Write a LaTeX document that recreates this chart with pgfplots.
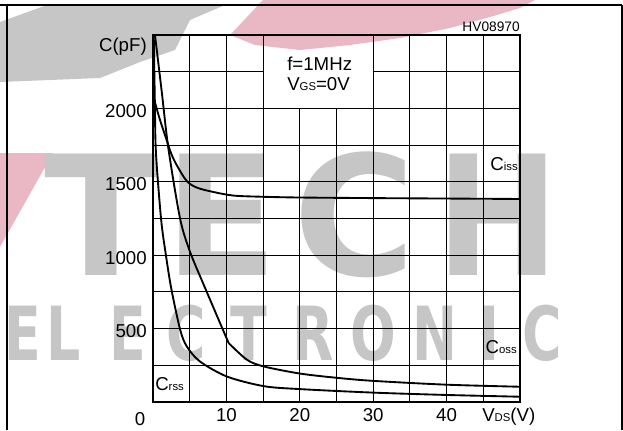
\documentclass[border=0pt]{standalone}
\usepackage{fontspec}
\setmainfont{Liberation Sans}
\newfontfamily\wmfont{DejaVu Sans}
\usepackage{graphicx}
\usepackage{pgfplots}
\pgfplotsset{compat=1.18}

\definecolor{wmgray}{RGB}{198,198,198}
\definecolor{wmpink}{RGB}{234,184,196}
\newcommand\sub[1]{{\fontsize{8.5}{9}\selectfont #1}}
\newcommand\lbl{\fontsize{14}{16}\selectfont}

\begin{document}
\begin{tikzpicture}[x=0.75pt,y=0.75pt]
% pixel coordinates of the reference, shifted so that the axis corner is the origin
\begin{scope}[shift={(-153,-28)}]
\useasboundingbox (0,0) rectangle (623,430);
% watermark, behind the chart
\fill[wmpink] (263,430) -- (535,430) -- (520,422) -- (490,413) -- (450,402) -- (400,392)
  -- (350,385) -- (300,380) -- (255,385) -- (230,395) -- cycle;
\fill[wmpink] (0,277) -- (53,277) -- (0,183) -- cycle;
\fill[wmgray] (47,425) -- (225,425) -- (190,410) -- (175,380) -- (140,368) -- (100,352)
  -- (0,348) -- (0,408) -- cycle;
\begin{scope}[every node/.style={anchor=base west,inner sep=0pt,text=wmgray,
    font=\wmfont\fontsize{125}{125}\bfseries\selectfont}]
  \node at (44,155) {T};
  \node at (164,155) {E};
  \node at (293,155) {C};
  \node at (436,155) {\scalebox{0.88}[1]{H}};
\end{scope}
\begin{scope}[every node/.style={anchor=base west,inner sep=0pt,text=wmgray,
    font=\wmfont\fontsize{56}{56}\bfseries\selectfont}]
  \node at (4,70) {\scalebox{0.72}[1]{E}};
  \node at (46,70) {\scalebox{0.72}[1]{L}};
  \node at (109,70) {\scalebox{0.72}[1]{E}};
  \node at (166,70) {\scalebox{0.72}[1]{C}};
  \node at (230,70) {\scalebox{0.72}[1]{T}};
  \node at (292,70) {\scalebox{0.72}[1]{R}};
  \node at (350,70) {\scalebox{0.72}[1]{O}};
  \node at (412,70) {\scalebox{0.72}[1]{N}};
  \node at (479,70) {\scalebox{0.72}[1]{I}};
  \node at (522,70) {\scalebox{0.72}[1]{C}};
\end{scope}
% outer frame (open at the bottom)
\draw[line width=1.5pt] (0,425) -- (622,425);
\draw[line width=1.5pt] (7,425) -- (7,0);
\draw[line width=1.5pt] (622,425) -- (622,0);
\end{scope}

\begin{axis}[
  at={(0,0)}, anchor=south west,
  scale only axis, width=275.25pt, height=275.25pt,
  xmin=0, xmax=50, ymin=0, ymax=2500,
  xtick={10,20,30,40},
  ytick={500,1000,1500,2000},
  major tick length=0pt,
  axis line style={line width=1.5pt},
  /pgf/number format/assume math mode=true,
  /pgf/number format/1000 sep={},
  tick label style={font=\lbl, inner sep=0pt},
  yticklabel style={anchor=east, xshift=-4.5pt, yshift=-2pt},
  xticklabel style={anchor=north, yshift=-4.5pt},
]
% grid, left open where the test conditions are written
\pgfplotsinvokeforeach{5,10,15,30,35,40,45}{
  \draw[line width=0.7pt] (axis cs:#1,0) -- (axis cs:#1,2500);
}
\pgfplotsinvokeforeach{20,25}{
  \draw[line width=0.7pt] (axis cs:#1,0) -- (axis cs:#1,2000);
}
\pgfplotsinvokeforeach{250,500,750,1000,1250,1500,1750,2000}{
  \draw[line width=0.7pt] (axis cs:0,#1) -- (axis cs:50,#1);
}
\draw[line width=0.7pt] (axis cs:0,2250) -- (axis cs:15,2250);
\draw[line width=0.7pt] (axis cs:30,2250) -- (axis cs:50,2250);

% Ciss
\addplot[black, line width=1.4pt, smooth, no marks] coordinates {
(0,2089) (0.9,1930) (1.87,1783) (2.5,1690) (3.24,1613) (4.6,1505) (6,1460)
(8.2,1431) (11,1406) (15,1398) (20,1393) (30,1389) (40,1386) (50,1383)
};
% Coss
\addplot[black, line width=1.4pt, smooth, no marks] coordinates {
(0.27,2500) (1.2,2110) (2.1,1726) (3.7,1247) (5.07,1020) (6.9,800) (9.4,507) (10.3,402)
};
\addplot[black, line width=1.4pt, smooth, no marks] coordinates {
(10.3,402) (12.8,288) (15.1,242) (20,194) (25,165) (30,144) (40,118) (50,104)
};
% Crss
\addplot[black, line width=1.4pt, smooth, no marks] coordinates {
(0.1,2500) (0.25,2050) (0.4,1700) (1.1,1247) (1.74,1007) (2.5,770) (3.7,493)
(4.6,379) (6.4,276) (10.1,173) (15.1,108) (20,88) (30,64) (40,48) (50,36)
};
\end{axis}

\begin{scope}[shift={(-153,-28)}]
\node[anchor=east, inner sep=0pt, font=\lbl] at (147,383) {C(pF)};
\node[anchor=base, inner sep=0pt, font=\lbl] at (140,5) {0};
\node[anchor=base west, inner sep=0pt, font=\lbl] at (482,9) {V\sub{DS}(V)};
\node[anchor=east, inner sep=0pt, font=\fontsize{10.3}{12}\selectfont] at (520,403) {HV08970};
\node[anchor=base west, inner sep=0pt, font=\lbl] at (287,360) {f=1MHz};
\node[anchor=base west, inner sep=0pt, font=\lbl] at (287,340) {V\sub{GS}=0V};
\node[anchor=base east, inner sep=0pt, font=\lbl] at (518,260) {C\sub{iss}};
\node[anchor=base east, inner sep=0pt, font=\lbl] at (517,77) {C\sub{oss}};
\node[anchor=base west, inner sep=0pt, font=\lbl] at (155,40) {C\sub{rss}};
\end{scope}
\end{tikzpicture}
\end{document}
